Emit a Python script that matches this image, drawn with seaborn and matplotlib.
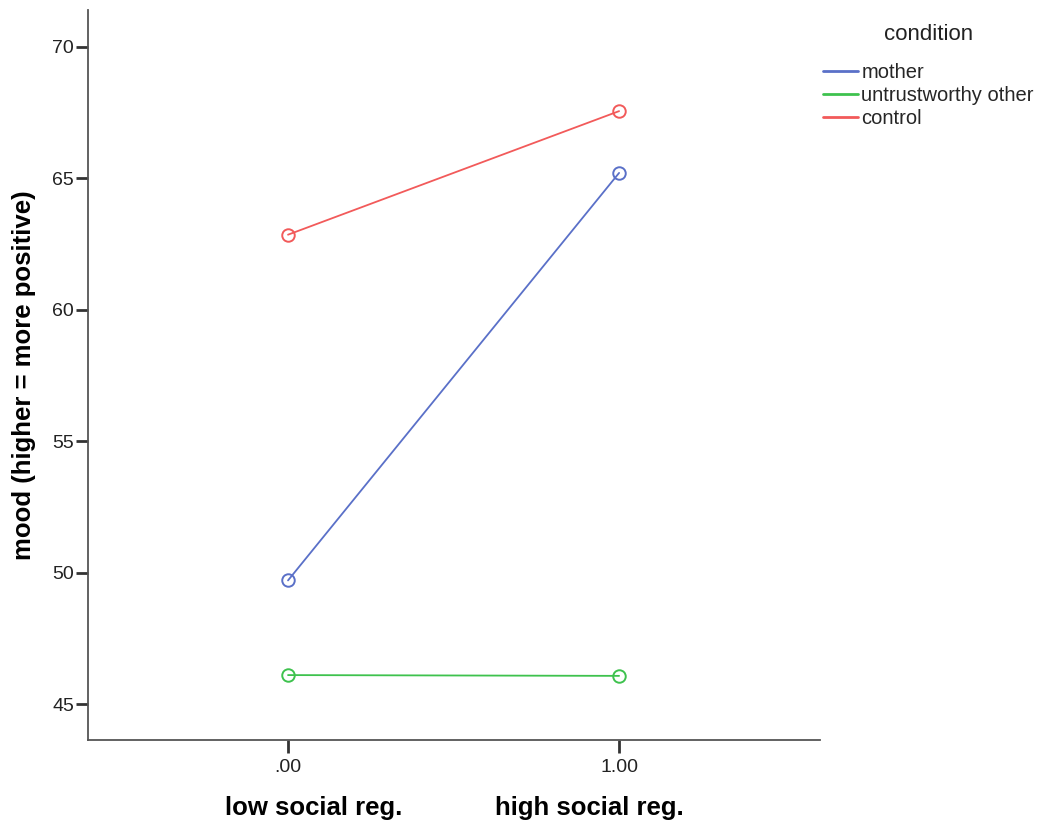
import matplotlib
matplotlib.use("Agg")
import matplotlib.pyplot as plt
from matplotlib.lines import Line2D
import seaborn as sns
import pandas as pd

# values
social_reg = [0.0, 1.0]
conditions = ["mother", "untrustworthy other", "control"]
mood_mother = [49.7, 65.2]
mood_untrustworthy = [46.1, 46.07]
mood_control = [62.85, 67.55]
colors = ["#5a70c8", "#3ec24e", "#f25a5a"]

rows = []
for cond, vals in zip(conditions, [mood_mother, mood_untrustworthy, mood_control]):
    for x, y in zip(social_reg, vals):
        rows.append({"social_reg": x, "mood": y, "condition": cond})
df = pd.DataFrame(rows)

sns.set_theme(style="ticks")
plt.rcParams["font.family"] = ["Liberation Sans", "DejaVu Sans"]

fig = plt.figure(figsize=(10.37, 8.25), dpi=100)
ax = fig.add_axes([0.0849, 0.103, 0.7059, 0.885])

palette = dict(zip(conditions, colors))
sns.lineplot(
    data=df, x="social_reg", y="mood", hue="condition",
    hue_order=conditions, palette=palette,
    marker="o", markersize=9, markerfacecolor="none",
    markeredgewidth=1.4, linewidth=1.3, legend=False, ax=ax,
)
# seaborn paints marker edges white; give them the line colour
for line in ax.lines:
    line.set_markeredgecolor(line.get_color())

ax.set_xlim(-0.604, 1.607)
ax.set_ylim(43.63, 71.4)
ax.set_xticks(social_reg)
ax.set_xticklabels([".00", "1.00"])
ax.set_yticks([45, 50, 55, 60, 65, 70])

for side in ["top", "right"]:
    ax.spines[side].set_visible(False)
for side in ["left", "bottom"]:
    ax.spines[side].set_color("#555555")
    ax.spines[side].set_linewidth(1.3)

ax.tick_params(axis="both", direction="out", length=9, width=2,
               color="#333333", labelsize=14, labelcolor="#222222", pad=1)
ax.tick_params(axis="x", length=9, pad=5)

ax.set_ylabel("mood (higher = more positive)", fontsize=18.5,
              fontweight="bold", labelpad=12, color="black")
ax.set_xlabel("low social reg." + " " * 13 + "high social reg.",
              fontsize=18.5, fontweight="bold", labelpad=14, color="black")

fig.text(929 / 1037, 1 - 35 / 825, "condition", ha="center", va="center",
         fontsize=16, color="#222222")
handles = [Line2D([], [], color=c, linewidth=2) for c in colors]
fig.legend(handles, conditions, loc="upper left",
           bbox_to_anchor=(823 / 1037, 1 - 63 / 825), frameon=False,
           borderpad=0, borderaxespad=0, fontsize=14.5,
           handlelength=1.75, handletextpad=0.15, labelspacing=0.2)

fig.savefig("out.png", dpi=100)
